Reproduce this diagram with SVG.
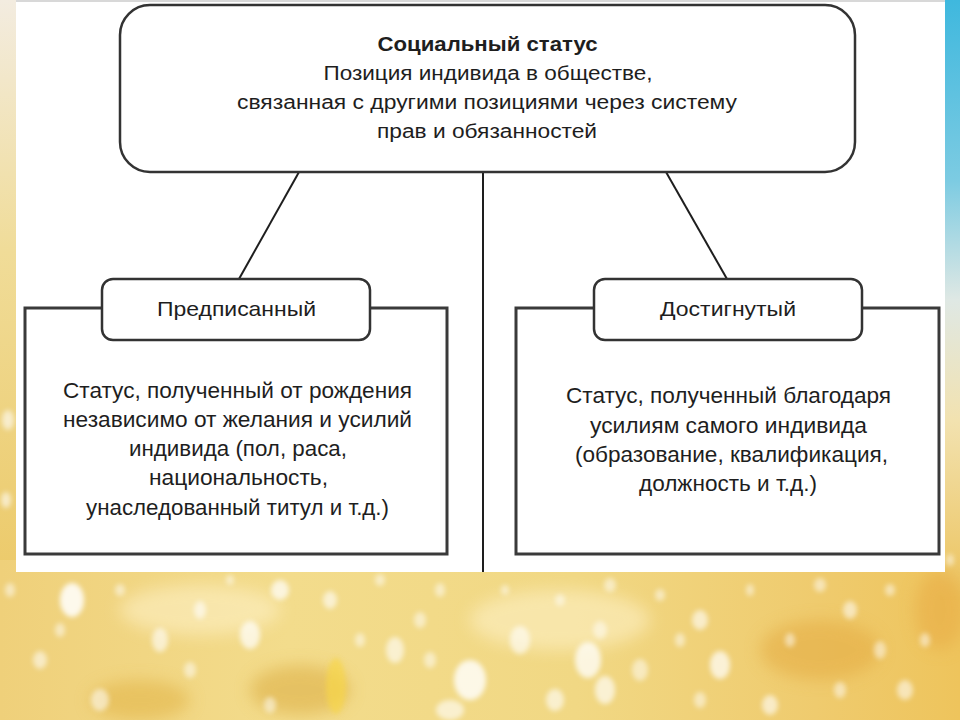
<svg xmlns="http://www.w3.org/2000/svg" width="960" height="720" viewBox="0 0 960 720">
<defs>
<linearGradient id="bgGold" x1="0" y1="0" x2="0" y2="1">
<stop offset="0" stop-color="#f3ece0"/>
<stop offset="0.35" stop-color="#f0dc98"/>
<stop offset="0.8" stop-color="#ecca6a"/>
<stop offset="1" stop-color="#e9c15a"/>
</linearGradient>
<linearGradient id="bgRight" x1="0" y1="0" x2="0" y2="1">
<stop offset="0" stop-color="#3fb8de"/>
<stop offset="0.3" stop-color="#7ccbe2"/>
<stop offset="0.5" stop-color="#dfe8e4"/>
<stop offset="0.7" stop-color="#f2e2b0"/>
<stop offset="1" stop-color="#ecc25a"/>
</linearGradient>
<linearGradient id="bgBottom" x1="0" y1="0" x2="1" y2="0">
<stop offset="0" stop-color="#efd07a"/>
<stop offset="0.3" stop-color="#f3dc8c"/>
<stop offset="0.6" stop-color="#f1d884"/>
<stop offset="0.85" stop-color="#efcb6e"/>
<stop offset="1" stop-color="#eec45c"/>
</linearGradient>
<filter id="blur" x="-50%" y="-50%" width="200%" height="200%">
<feGaussianBlur stdDeviation="2.5"/>
</filter>
<filter id="blur2" x="-50%" y="-50%" width="200%" height="200%">
<feGaussianBlur stdDeviation="8"/>
</filter>
</defs>
<style>
.frame{fill:#ffffff;stroke:#333333;stroke-width:2.5}
.big{fill:#ffffff;stroke:#3a3a3a;stroke-width:3}
.conn{fill:none;stroke:#1e1e1e;stroke-width:2}
.t{font-family:"Liberation Sans","DejaVu Sans",sans-serif;fill:#1e1e1e;text-anchor:middle}
.title{font-size:20px;font-weight:bold}
.top{font-size:20px}
.lbl{font-size:21px}
.body{font-size:22px}
.bokeh{fill:#ffffff}
</style>

<g id="background">
<rect x="0" y="0" width="960" height="720" fill="url(#bgGold)"/>
<rect x="0" y="560" width="960" height="160" fill="url(#bgBottom)"/>
<rect x="940" y="0" width="20" height="600" fill="url(#bgRight)"/>
<g filter="url(#blur2)" opacity="0.5">
<ellipse cx="300" cy="690" rx="50" ry="25" fill="#d9a83a"/>
<ellipse cx="820" cy="650" rx="60" ry="30" fill="#e3a83c"/>
<ellipse cx="140" cy="700" rx="50" ry="20" fill="#e0b040"/>
<ellipse cx="940" cy="610" rx="25" ry="40" fill="#e7a842"/>
<ellipse cx="560" cy="620" rx="90" ry="30" fill="#fff4d0"/>
<ellipse cx="200" cy="610" rx="80" ry="25" fill="#fff4d0"/>
</g>
<g filter="url(#blur)" class="bokeh">
<ellipse cx="72" cy="600" rx="12" ry="17" opacity="0.85"/>
<ellipse cx="160" cy="640" rx="8" ry="12" opacity="0.6"/>
<ellipse cx="200" cy="610" rx="6" ry="9" opacity="0.6"/>
<ellipse cx="280" cy="590" rx="9" ry="10" opacity="0.7"/>
<ellipse cx="336" cy="686" rx="10" ry="28" fill="#f7d64a" opacity="0.7"/>
<ellipse cx="250" cy="635" rx="10" ry="14" opacity="0.7"/>
<ellipse cx="330" cy="600" rx="7" ry="9" opacity="0.6"/>
<ellipse cx="395" cy="650" rx="9" ry="13" opacity="0.6"/>
<ellipse cx="420" cy="620" rx="6" ry="8" opacity="0.5"/>
<ellipse cx="470" cy="680" rx="16" ry="20" opacity="0.8"/>
<ellipse cx="520" cy="640" rx="10" ry="14" opacity="0.6"/>
<ellipse cx="555" cy="700" rx="9" ry="11" opacity="0.6"/>
<ellipse cx="600" cy="630" rx="7" ry="9" opacity="0.5"/>
<ellipse cx="640" cy="670" rx="8" ry="11" opacity="0.5"/>
<ellipse cx="700" cy="620" rx="8" ry="10" opacity="0.6"/>
<ellipse cx="720" cy="665" rx="10" ry="14" opacity="0.7"/>
<ellipse cx="770" cy="705" rx="8" ry="10" opacity="0.6"/>
<ellipse cx="850" cy="610" rx="7" ry="9" opacity="0.55"/>
<ellipse cx="880" cy="650" rx="6" ry="9" opacity="0.5"/>
<ellipse cx="905" cy="690" rx="8" ry="10" opacity="0.55"/>
<ellipse cx="40" cy="660" rx="7" ry="9" opacity="0.55"/>
<ellipse cx="100" cy="700" rx="9" ry="11" opacity="0.55"/>
<ellipse cx="610" cy="585" rx="6" ry="7" opacity="0.5"/>
<ellipse cx="440" cy="590" rx="5" ry="7" opacity="0.5"/>
<ellipse cx="820" cy="585" rx="6" ry="7" opacity="0.5"/>
<ellipse cx="8" cy="420" rx="6" ry="10" opacity="0.6"/>
<ellipse cx="6" cy="500" rx="5" ry="8" opacity="0.6"/>
<ellipse cx="588" cy="660" rx="13" ry="18" opacity="0.75"/>
<ellipse cx="605" cy="690" rx="10" ry="14" opacity="0.65"/>
<ellipse cx="450" cy="710" rx="14" ry="10" opacity="0.6"/>
<ellipse cx="120" cy="590" rx="5" ry="6" opacity="0.5"/>
<ellipse cx="230" cy="580" rx="4" ry="5" opacity="0.5"/>
<ellipse cx="380" cy="580" rx="5" ry="6" opacity="0.5"/>
<ellipse cx="505" cy="590" rx="4" ry="5" opacity="0.5"/>
<ellipse cx="660" cy="595" rx="5" ry="6" opacity="0.5"/>
<ellipse cx="750" cy="590" rx="4" ry="6" opacity="0.5"/>
<ellipse cx="890" cy="590" rx="5" ry="6" opacity="0.5"/>
<ellipse cx="60" cy="630" rx="5" ry="7" opacity="0.5"/>
<ellipse cx="190" cy="670" rx="6" ry="8" opacity="0.5"/>
<ellipse cx="360" cy="640" rx="5" ry="7" opacity="0.5"/>
<ellipse cx="430" cy="660" rx="6" ry="8" opacity="0.5"/>
<ellipse cx="560" cy="600" rx="5" ry="6" opacity="0.5"/>
<ellipse cx="680" cy="640" rx="5" ry="7" opacity="0.5"/>
<ellipse cx="790" cy="640" rx="5" ry="7" opacity="0.5"/>
<ellipse cx="840" cy="690" rx="6" ry="8" opacity="0.5"/>
<ellipse cx="925" cy="640" rx="5" ry="7" opacity="0.5"/>
<ellipse cx="270" cy="705" rx="6" ry="8" opacity="0.5"/>
<ellipse cx="700" cy="700" rx="6" ry="8" opacity="0.5"/>
<ellipse cx="10" cy="590" rx="5" ry="7" opacity="0.5"/>
<ellipse cx="950" cy="560" rx="4" ry="6" opacity="0.5"/>
</g>
<rect x="16" y="0" width="929" height="572" fill="#ffffff"/>
<line x1="16" y1="1" x2="945" y2="1" stroke="#d8d8d8" stroke-width="2"/>
</g>

<g id="connectors">
<line class="conn" x1="299" y1="172" x2="239" y2="279"/>
<line class="conn" x1="666" y1="172" x2="727" y2="279"/>
<line class="conn" x1="483" y1="173" x2="483" y2="572"/>
</g>

<g id="node-social-status">
<rect class="frame" x="120" y="5" width="735" height="167" rx="30" ry="30"/>
<text class="t title" x="487.5" y="51" textLength="220" lengthAdjust="spacingAndGlyphs">Социальный статус</text>
<text class="t top" x="488" y="80" textLength="329" lengthAdjust="spacingAndGlyphs">Позиция индивида в обществе,</text>
<text class="t top" x="487" y="109" textLength="500" lengthAdjust="spacingAndGlyphs">связанная с другими позициями через систему</text>
<text class="t top" x="487" y="138" textLength="220" lengthAdjust="spacingAndGlyphs">прав и обязанностей</text>
</g>

<g id="node-ascribed">
<rect class="big" x="25" y="308" width="422" height="246"/>
<rect class="frame" x="102" y="279" width="268" height="61" rx="11" ry="11"/>
<text class="t lbl" x="236.5" y="316" textLength="159" lengthAdjust="spacingAndGlyphs">Предписанный</text>
<text class="t body" x="237.5" y="398" textLength="349" lengthAdjust="spacingAndGlyphs">Статус, полученный от рождения</text>
<text class="t body" x="237.5" y="427" textLength="349" lengthAdjust="spacingAndGlyphs">независимо от желания и усилий</text>
<text class="t body" x="238" y="456" textLength="218" lengthAdjust="spacingAndGlyphs">индивида (пол, раса,</text>
<text class="t body" x="238.5" y="485" textLength="179" lengthAdjust="spacingAndGlyphs">национальность,</text>
<text class="t body" x="237.5" y="515" textLength="303" lengthAdjust="spacingAndGlyphs">унаследованный титул и т.д.)</text>
</g>

<g id="node-achieved">
<rect class="big" x="516" y="308" width="423" height="246"/>
<rect class="frame" x="594" y="279" width="268" height="61" rx="11" ry="11"/>
<text class="t lbl" x="728" y="316" textLength="136" lengthAdjust="spacingAndGlyphs">Достигнутый</text>
<text class="t body" x="728.5" y="403" textLength="325" lengthAdjust="spacingAndGlyphs">Статус, полученный благодаря</text>
<text class="t body" x="728.5" y="433" textLength="277" lengthAdjust="spacingAndGlyphs">усилиям самого индивида</text>
<text class="t body" x="731.5" y="462" textLength="313" lengthAdjust="spacingAndGlyphs">(образование, квалификация,</text>
<text class="t body" x="728" y="491" textLength="178" lengthAdjust="spacingAndGlyphs">должность и т.д.)</text>
</g>
</svg>
